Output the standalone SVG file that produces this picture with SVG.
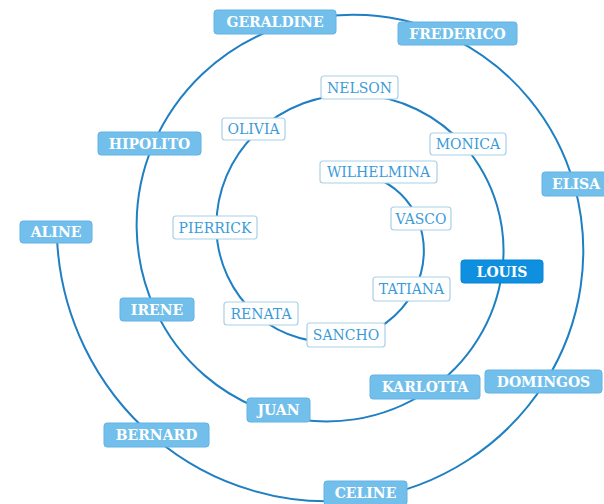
<svg xmlns="http://www.w3.org/2000/svg" width="604" height="504" viewBox="0 0 604 504">
<style>
.bg{fill:#ffffff}
.edge{fill:none;stroke:#1f7fc3;stroke-width:2}
.o rect{fill:#72bfec;stroke:#62b3e4;stroke-width:1}
.o text{fill:#ffffff;font-family:"DejaVu Serif","Liberation Serif",serif;font-weight:bold;font-size:14px;text-anchor:middle}
.s rect{fill:#0f8fe0;stroke:#0b84d3;stroke-width:1}
.s text{fill:#ffffff;font-family:"DejaVu Serif","Liberation Serif",serif;font-weight:bold;font-size:14px;text-anchor:middle}
.i rect{fill:#ffffff;stroke:#a9d1e8;stroke-width:1.2}
.i text{fill:#3b9bd8;font-family:"DejaVu Serif","Liberation Serif",serif;font-size:14px;text-anchor:middle}
</style>
<rect class="bg" x="0" y="0" width="604" height="504"/>
<g id="connectors">
<path class="edge" d="M57 238 A277.8 277.8 0 0 0 153.97 437.22"/>
<path class="edge" d="M153.97 437.22 A267.2 267.2 0 0 0 365.18 498.58"/>
<path class="edge" d="M365.18 498.58 A256.3 256.3 0 0 0 544.97 382.57"/>
<path class="edge" d="M544.97 382.57 A245.5 245.5 0 0 0 574.03 184.23"/>
<path class="edge" d="M574.03 184.23 A234.9 234.9 0 0 0 453.84 38.6"/>
<path class="edge" d="M453.84 38.6 A224.4 224.4 0 0 0 276.8 28.02"/>
<path class="edge" d="M276.8 28.02 A214.1 214.1 0 0 0 152.88 145.2"/>
<path class="edge" d="M152.88 145.2 A203.6 203.6 0 0 0 155.34 310.15"/>
<path class="edge" d="M155.34 310.15 A192.8 192.8 0 0 0 276.45 414.32"/>
<path class="edge" d="M276.45 414.32 A181.9 181.9 0 0 0 427.41 391.22"/>
<path class="edge" d="M427.41 391.22 A171 171 0 0 0 502.16 271.52"/>
<path class="edge" d="M502.16 271.52 A160.3 160.3 0 0 0 464.9 146.31"/>
<path class="edge" d="M464.9 146.31 A149.8 149.8 0 0 0 358.57 94.56"/>
<path class="edge" d="M358.57 94.56 A139.5 139.5 0 0 0 256.15 132.94"/>
<path class="edge" d="M256.15 132.94 A129.3 129.3 0 0 0 216.36 227.11"/>
<path class="edge" d="M216.36 227.11 A118.7 118.7 0 0 0 258.09 316.27"/>
<path class="edge" d="M258.09 316.27 A107.8 107.8 0 0 0 346.31 340.03"/>
<path class="edge" d="M346.31 340.03 A96.6 96.6 0 0 0 413.99 290.78"/>
<path class="edge" d="M413.99 290.78 A85.4 85.4 0 0 0 417.73 219.16"/>
<path class="edge" d="M417.73 219.16 A74.9 74.9 0 0 0 375.14 177.77"/>
</g>
<g id="aline" class="o"><rect x="20" y="221" width="72" height="22" rx="3"/><text x="56" y="237">ALINE</text></g>
<g id="bernard" class="o"><rect x="104" y="423" width="105" height="24" rx="3"/><text x="156.5" y="440">BERNARD</text></g>
<g id="celine" class="o"><rect x="324" y="481" width="83" height="24" rx="3"/><text x="365.5" y="498">CELINE</text></g>
<g id="domingos" class="o"><rect x="485" y="370" width="117" height="23" rx="3"/><text x="543.5" y="386.5">DOMINGOS</text></g>
<g id="elisa" class="o"><rect x="542" y="172" width="68" height="24" rx="3"/><text x="576" y="189">ELISA</text></g>
<g id="frederico" class="o"><rect x="398" y="22" width="119" height="23" rx="3"/><text x="457.5" y="38.5">FREDERICO</text></g>
<g id="geraldine" class="o"><rect x="214" y="10" width="122" height="24" rx="3"/><text x="275" y="27">GERALDINE</text></g>
<g id="hipolito" class="o"><rect x="98" y="132" width="103" height="23" rx="3"/><text x="149.5" y="148.5">HIPOLITO</text></g>
<g id="irene" class="o"><rect x="120" y="298" width="74" height="23" rx="3"/><text x="157" y="314.5">IRENE</text></g>
<g id="juan" class="o"><rect x="247" y="398" width="63" height="24" rx="3"/><text x="278.5" y="415">JUAN</text></g>
<g id="karlotta" class="o"><rect x="370" y="375" width="110" height="24" rx="3"/><text x="425" y="392">KARLOTTA</text></g>
<g id="louis" class="s"><rect x="461" y="260" width="82" height="23" rx="3"/><text x="502" y="276.5">LOUIS</text></g>
<g id="monica" class="i"><rect x="430" y="133" width="76" height="22" rx="3"/><text x="468" y="149">MONICA</text></g>
<g id="nelson" class="i"><rect x="321" y="76" width="77" height="23" rx="3"/><text x="359.5" y="92.5">NELSON</text></g>
<g id="olivia" class="i"><rect x="222" y="118" width="63" height="22" rx="3"/><text x="253.5" y="134">OLIVIA</text></g>
<g id="pierrick" class="i"><rect x="173" y="216" width="84" height="23" rx="3"/><text x="215" y="232.5">PIERRICK</text></g>
<g id="renata" class="i"><rect x="224" y="302" width="74" height="23" rx="3"/><text x="261" y="318.5">RENATA</text></g>
<g id="sancho" class="i"><rect x="307" y="323" width="78" height="24" rx="3"/><text x="346" y="340">SANCHO</text></g>
<g id="tatiana" class="i"><rect x="373" y="277" width="77" height="24" rx="3"/><text x="411.5" y="294">TATIANA</text></g>
<g id="vasco" class="i"><rect x="391" y="207" width="60" height="23" rx="3"/><text x="421" y="223.5">VASCO</text></g>
<g id="wilhelmina" class="i"><rect x="320" y="161" width="117" height="22" rx="3"/><text x="378.5" y="177">WILHELMINA</text></g>
</svg>
